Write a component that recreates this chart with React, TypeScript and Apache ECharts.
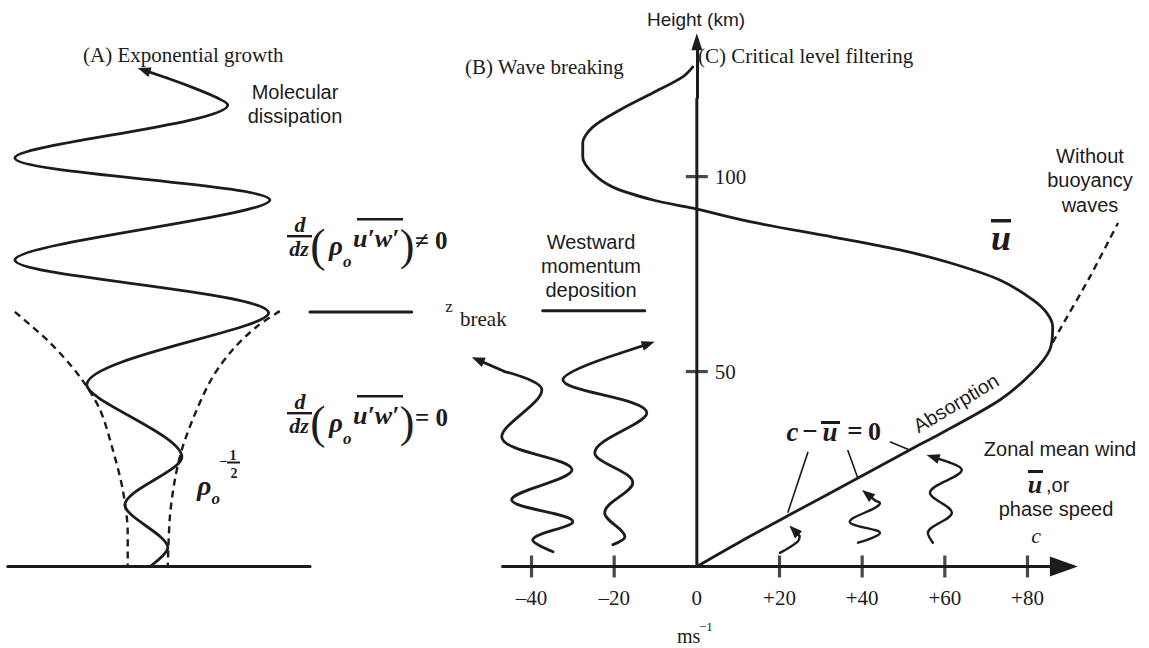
import React, { useEffect, useRef } from "react";
import * as echarts from "echarts";

const INK = "#1d1b1c";
const SERIF = '"Liberation Serif", "DejaVu Serif", serif';
const SANS = '"Liberation Sans", Arial, sans-serif';

// ---- axes (wind in m/s, height in km) ----
const X_MIN = -168.6;
const X_MAX = 109.4;
const Y_MAX = 145.3;
const xTickLabels = [-40, -20, 0, 20, 40, 60, 80];
const xTickMarks = [-40, -20, 20, 40, 60, 80];
const yTickLabels = [50, 100];
const xAxisLine = [[-47, 0], [80, 0]];
const xAxisArrow = [[80, 0], [88.8, 0]];
const yAxisLine = [[0, 0], [0, 120]];
const yAxisArrow = [[0, 120], [0, 134.6]];

// ---- panel A: exponential growth ----
const groundA = [[-166.7, 0], [-93.6, 0]];
const waveA = [
  [-132.3, 0], [-128.0, 4.8], [-138.4, 15.8], [-124.6, 28.1], [-147.6, 46.6],
  [-103.6, 65.0], [-165.0, 78.6], [-103.3, 94.0], [-165.0, 104.8],
  [-113.5, 118.4], [-128.2, 125.3],
];
const waveAArrow = [[-128.2, 125.3], [-133.8, 127.3]];
const envelopeLeft = [
  [-165.0, 65.3], [-156.5, 57.4], [-149.3, 48.7], [-144.4, 40.2],
  [-141.3, 29.9], [-138.9, 19.7], [-137.7, 8.6], [-137.7, 0],
];
const envelopeRight = [
  [-100.9, 65.5], [-106.5, 61.5], [-112.3, 55.6], [-117.1, 48.7], [-121.0, 40.2],
  [-124.4, 30.7], [-126.3, 22.2], [-127.5, 12.7], [-128.0, 0],
];
const zBreakLine = [[-93.6, 65.3], [-69.0, 65.3]];

// ---- panel B: wave breaking ----
const depositionUnderline = [[-37.3, 65.6], [-12.6, 65.6]];
const waveB1 = [
  [-34.8, 3.8], [-39.7, 6.8], [-30.0, 11.5], [-44.8, 17.1], [-30.2, 24.8],
  [-47.2, 33.3], [-37.5, 45.3], [-46.5, 50.0],
];
const waveB1Arrow = [[-46.5, 50.0], [-53.0, 53.0]];
const waveB2 = [
  [-20.3, 5.6], [-17.4, 7.6], [-22.3, 13.8], [-15.5, 21.5], [-24.7, 29.2],
  [-12.1, 39.4], [-32.4, 47.9], [-18.6, 54.7],
];
const waveB2Arrow = [[-18.6, 54.7], [-11.7, 57.1]];

// ---- panel C: critical level filtering ----
const uBar = [
  [0, 0], [10.4, 6.3], [22.0, 13.0], [39.0, 22.7], [51.5, 29.9], [58.8, 34.0],
  [73.3, 42.7], [81.3, 49.9], [85.4, 55.6], [86.1, 61.5], [84.7, 65.0],
  [81.3, 68.4], [73.3, 73.5], [61.2, 77.9], [49.1, 81.2], [32.9, 84.5],
  [13.5, 88.3], [-1.0, 91.9], [-10.6, 94.0], [-20.3, 97.3], [-25.2, 100.9],
  [-27.6, 105.0], [-27.6, 108.6], [-25.2, 112.7], [-18.6, 117.1],
  [-10.6, 121.5], [-3.4, 125.6], [-1.0, 128.1],
];
const noBuoyancy = [[86.1, 57.4], [87.8, 60.7], [95.1, 74.3], [101.9, 88.1]];
const criticalLeaders = [
  [[26.9, 29.4], [22.0, 13.8]],
  [[36.5, 29.9], [39.0, 22.5]],
  [[46.7, 32.0], [51.5, 29.9]],
];
const waveC20 = [[20.1, 3.5], [24.4, 6.4], [24.9, 7.8]];
const waveC20Arrow = [[24.9, 7.8], [23.5, 9.3]];
const waveC40 = [[39.0, 6.1], [44.3, 8.6], [37.0, 11.5], [44.3, 16.3], [43.3, 16.8]];
const waveC40Arrow = [[43.3, 16.8], [41.2, 18.6]];
const waveC60 = [
  [57.1, 6.1], [55.9, 8.6], [61.7, 13.8], [56.4, 18.9], [64.1, 24.8], [60.0, 27.1],
];
const waveC60Arrow = [[60.0, 27.1], [57.1, 28.1]];

const CHART_W = 1149;
// y axis sits at wind = 0
const Y_AXIS_OFFSET = -(CHART_W * (0 - X_MIN)) / (X_MAX - X_MIN);

function curve(data: number[][], o: any = {}) {
  const width = o.width ?? 2.8;
  const s: any = {
    type: "line",
    data,
    symbol: "none",
    smooth: o.smooth ?? 0.3,
    clip: false,
    silent: true,
    z: o.z ?? 3,
    lineStyle: {
      color: INK,
      width,
      type: o.dashed ? [7, 5] : "solid",
      cap: o.dashed ? "butt" : "round",
      join: "round",
    },
    emphasis: { disabled: true },
  };
  if (o.arrow) {
    s.markLine = {
      silent: true,
      animation: false,
      symbol: ["none", "triangle"],
      symbolSize: 12,
      label: { show: false },
      emphasis: { disabled: true },
      itemStyle: { color: INK },
      lineStyle: { color: INK, width, type: "solid" },
      data: [
        [
          { coord: o.arrow[0], symbol: "none" },
          { coord: o.arrow[1], symbol: "triangle", symbolSize: o.arrowSize ?? [10, 13] },
        ],
      ],
    };
  }
  return s;
}

function txt(text: string, x: number, y: number, o: any = {}) {
  const align = o.align || "left";
  const valign = o.valign || "middle";
  return {
    type: "text",
    x,
    y,
    rotation: o.rotation || 0,
    silent: true,
    z: 100,
    style: {
      text,
      fill: INK,
      fontFamily: o.family || SANS,
      fontSize: o.size || 20,
      fontWeight: o.weight || "normal",
      fontStyle: o.style || "normal",
      lineHeight: o.lineHeight,
      textAlign: align,
      align,
      textVerticalAlign: valign,
      verticalAlign: valign,
      rich: o.rich,
    },
  };
}

function bar(x: number, y: number, w: number, h: number) {
  return { type: "rect", silent: true, z: 100, shape: { x, y, width: w, height: h }, style: { fill: INK } };
}

const MATH = { family: SERIF, weight: "bold", style: "italic" };

// rho with subscript o, as one rich text
function rhoSub(x: number, y: number, big: number, small: number, drop: number) {
  return txt("{a|ρ}{b|o}", x, y, {
    ...MATH,
    size: big,
    rich: {
      a: {
        fontFamily: SERIF, fontWeight: "bold", fontStyle: "italic", fontSize: big,
        lineHeight: big, verticalAlign: "top", fill: INK,
      },
      b: {
        fontFamily: SERIF, fontWeight: "bold", fontStyle: "italic", fontSize: small,
        lineHeight: small, padding: [drop, 0, 0, 0], verticalAlign: "top", fill: INK,
      },
    },
  });
}

function fluxExpr(barY: number, rel: string) {
  return {
    type: "group",
    x: 287,
    y: barY,
    children: [
      txt("d", 13, -1, { ...MATH, size: 22, align: "center", valign: "bottom" }),
      bar(0, -1, 25, 2.4),
      txt("dz", 12, 1, { ...MATH, size: 22, align: "center", valign: "top" }),
      txt("(", 31, 9, { family: SERIF, size: 46, align: "center" }),
      rhoSub(42, 10, 27, 17, 20),
      txt("u′w′", 66, 2, { ...MATH, size: 26 }),
      bar(70, -18, 46, 2.6),
      txt(")", 120, 9, { family: SERIF, size: 44, align: "center" }),
      txt(rel + " 0", 128, 4, { family: SERIF, weight: "bold", size: 25 }),
    ],
  };
}

const graphic: any[] = [
  txt("(A) Exponential growth", 83, 55, { family: SERIF, size: 21 }),
  txt("Molecular\ndissipation", 295, 104, { align: "center", size: 20, lineHeight: 24 }),
  txt("(B) Wave breaking", 465, 67, { family: SERIF, size: 21 }),
  txt("Height (km)", 696, 19, { align: "center", size: 19 }),
  txt("(C) Critical level filtering", 698, 56, { family: SERIF, size: 21 }),
  txt("Westward\nmomentum\ndeposition", 591, 266, { align: "center", size: 20, lineHeight: 24 }),
  txt("Without\nbuoyancy\nwaves", 1090, 180, { align: "center", size: 20, lineHeight: 24.5 }),
  txt("Zonal mean wind", 1060, 449, { align: "center", size: 20 }),
  txt("u", 1035, 484, { ...MATH, size: 26, align: "center" }),
  bar(1028, 470, 15, 3),
  txt(",or", 1046, 485, { size: 20 }),
  txt("phase speed", 1056, 509, { align: "center", size: 20 }),
  txt("c", 1036, 535, { family: SERIF, style: "italic", size: 22, align: "center" }),
  txt("z", 449, 306, { family: SERIF, size: 17, align: "center" }),
  txt("break", 460, 319, { family: SERIF, size: 21 }),
  txt("Absorption", 956, 403, { align: "center", size: 20, rotation: 0.54 }),
  txt("u", 1001, 238, { ...MATH, size: 36, align: "center" }),
  bar(991, 219, 20, 3.5),
  txt("c", 792.5, 432, { ...MATH, size: 27, align: "center" }),
  txt("−", 810, 431, { family: SERIF, weight: "bold", size: 27, align: "center" }),
  txt("u", 830, 432, { ...MATH, size: 27, align: "center" }),
  bar(821, 421, 19, 3),
  txt("=", 855, 431, { family: SERIF, weight: "bold", size: 27, align: "center" }),
  txt("0", 874.5, 431.5, { family: SERIF, weight: "bold", size: 26, align: "center" }),
  fluxExpr(236, "≠"),
  fluxExpr(413, "="),
  rhoSub(197, 485, 28, 17, 19),
  txt("−", 223.5, 461, { family: SERIF, weight: "bold", size: 14, align: "center" }),
  txt("1", 233, 455, { family: SERIF, weight: "bold", size: 14, align: "center" }),
  bar(227, 461.5, 13, 2),
  txt("2", 234, 473, { family: SERIF, weight: "bold", size: 14, align: "center" }),
  txt("ms", 677, 636, { family: SERIF, size: 20 }),
  txt("−1", 699, 626, { family: SERIF, size: 13 }),
];

const fmtWind = (v: number) => (v > 0 ? "+" + v : v < 0 ? "–" + -v : "0");

const option: any = {
  animation: false,
  backgroundColor: "#ffffff",
  grid: { left: 0, right: 0, top: 0, bottom: 81.5, containLabel: false, outerBoundsMode: "none" },
  xAxis: {
    type: "value",
    min: X_MIN,
    max: X_MAX,
    axisLine: { show: false, onZero: false },
    axisTick: { show: false },
    splitLine: { show: false },
    axisLabel: {
      customValues: xTickLabels,
      formatter: fmtWind,
      color: INK,
      fontFamily: SERIF,
      fontSize: 21,
      margin: 21,
    },
  },
  yAxis: {
    type: "value",
    min: 0,
    max: Y_MAX,
    position: "left",
    offset: Y_AXIS_OFFSET,
    axisLine: { show: false, onZero: false },
    axisTick: { show: false },
    splitLine: { show: false },
    axisLabel: {
      inside: true,
      customValues: yTickLabels,
      color: INK,
      fontFamily: SERIF,
      fontSize: 21,
      margin: 18,
    },
  },
  series: [
    curve(xAxisLine, { width: 3, smooth: false, arrow: xAxisArrow, arrowSize: [20, 28] }),
    curve(yAxisLine, { width: 3, smooth: false, arrow: yAxisArrow, arrowSize: [11, 17] }),
    {
      type: "scatter",
      data: xTickMarks.map((v) => [v, 0]),
      symbol: "rect",
      symbolSize: [3.2, 22],
      itemStyle: { color: INK },
      silent: true,
      z: 4,
    },
    {
      type: "scatter",
      data: yTickLabels.map((v) => [0, v]),
      symbol: "rect",
      symbolSize: [22, 3.2],
      itemStyle: { color: INK },
      silent: true,
      z: 4,
    },
    curve(groundA, { width: 3.2, smooth: false }),
    curve(waveA, { width: 2.8, smooth: 0.3, arrow: waveAArrow }),
    curve(envelopeLeft, { width: 2.4, smooth: 0.3, dashed: true }),
    curve(envelopeRight, { width: 2.4, smooth: 0.3, dashed: true }),
    curve(zBreakLine, { width: 3, smooth: false }),
    curve(depositionUnderline, { width: 3, smooth: false }),
    curve(waveB1, { width: 2.8, smooth: 0.35, arrow: waveB1Arrow }),
    curve(waveB2, { width: 2.8, smooth: 0.35, arrow: waveB2Arrow }),
    curve(uBar, { width: 2.8, smooth: 0.3 }),
    curve(noBuoyancy, { width: 2.4, smooth: 0.2, dashed: true }),
    {
      type: "lines",
      coordinateSystem: "cartesian2d",
      silent: true,
      z: 3,
      symbol: "none",
      lineStyle: { color: INK, width: 1.6, opacity: 1, curveness: 0 },
      data: criticalLeaders.map((c) => ({ coords: c })),
    },
    curve(waveC20, { width: 2.4, smooth: 0.4, arrow: waveC20Arrow }),
    curve(waveC40, { width: 2.4, smooth: 0.35, arrow: waveC40Arrow }),
    curve(waveC60, { width: 2.4, smooth: 0.35, arrow: waveC60Arrow }),
  ],
  graphic,
};

export default function App() {
  const ref = useRef<HTMLDivElement>(null);
  useEffect(() => {
    const chart = echarts.init(ref.current as HTMLDivElement, null, { renderer: "svg" });
    chart.setOption(option);
    return () => chart.dispose();
  }, []);
  return (
    <div
      ref={ref}
      style={{ position: "fixed", left: 0, top: 0, width: CHART_W, height: 648, background: "#fff" }}
    />
  );
}
